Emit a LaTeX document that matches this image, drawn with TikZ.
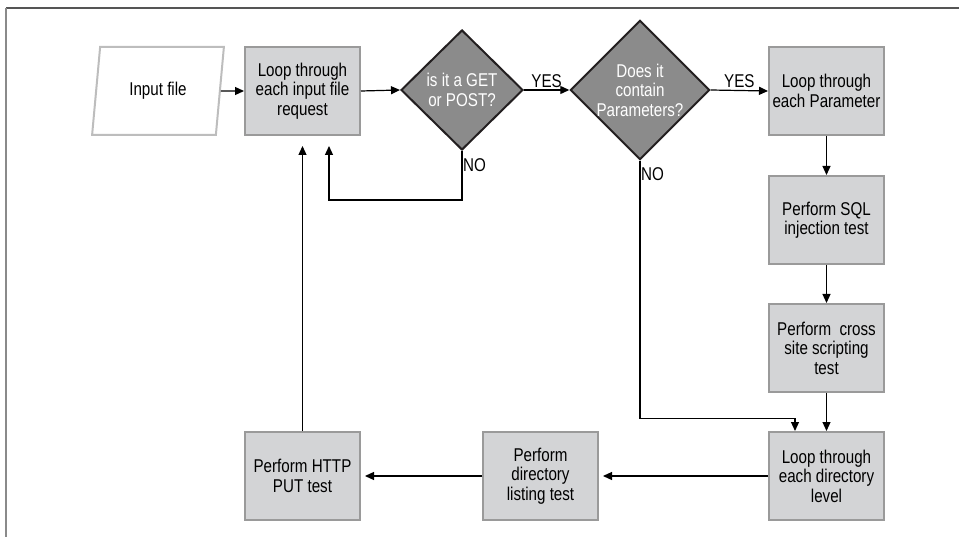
\documentclass[tikz,border=0pt]{standalone}
\usepackage{fontspec}
\setmainfont{Liberation Sans}[FakeStretch=0.82]
\usetikzlibrary{shapes.geometric,arrows.meta}
\definecolor{boxfill}{HTML}{D3D4D6}
\definecolor{boxline}{HTML}{9A9A9A}
\definecolor{diafill}{HTML}{8B8B8B}
\definecolor{diaine}{HTML}{231F20}
\definecolor{parline}{HTML}{BDBDBD}
\definecolor{frameleft}{HTML}{8A8A8A}
\definecolor{frametop}{HTML}{555555}
\tikzset{
  txt/.style={font=\fontsize{18.5}{19.5}\selectfont, align=center},
  procbox/.style={txt, draw=boxline, fill=boxfill, line width=2pt, minimum width=115pt, minimum height=88pt, inner sep=0pt},
  decision/.style={txt, diamond, draw=diaine, fill=diafill, line width=2pt, text=white, minimum width=122pt, minimum height=120pt, inner sep=0pt},
  iobox/.style={txt, trapezium, trapezium left angle=77, trapezium right angle=103, trapezium stretches=true, draw=parline, fill=white, line width=2pt, minimum width=132pt, minimum height=88pt, inner sep=0pt},
  arr/.style={draw=black, line width=1.2pt, -{Triangle[length=9pt,width=8pt]}},
  lbl/.style={font=\fontsize{18.5}{19.5}\selectfont, inner sep=1pt}
}
\begin{document}
\begin{tikzpicture}[x=1pt,y=-1pt]
\useasboundingbox (0,0) rectangle (959,537);
% frame
\draw[frametop, line width=1.5pt] (6,8) -- (959,8);
\draw[frameleft, line width=2.5pt] (6,8) -- (6,537);
% nodes
\node[iobox] (in) at (158,91) {Input file};
\node[procbox] (loop) at (302.5,91) {Loop through\\each input file\\request};
\node[decision] (d1) at (462,90) {is it a GET\\or POST?};
\node[decision] (d2) at (640,90) {Does it\\contain\\Parameters?};
\node[procbox] (param) at (826.5,91) {Loop through\\each Parameter};
\node[procbox] (sql) at (826.5,220) {Perform SQL\\injection test};
\node[procbox] (xss) at (826.5,348) {Perform~ cross\\site scripting\\test};
\node[procbox] (dirlevel) at (826.5,476) {Loop through\\each directory\\level};
\node[procbox] (dirlist) at (540.5,476) {Perform\\directory\\listing test};
\node[procbox] (put) at (302.5,476) {Perform HTTP\\PUT test};
% connectors
\draw[arr] (in.east) -- (loop.west);
\draw[arr] (loop.east) -- (d1.west);
\draw[arr] (d1.east) -- node[lbl, above=1pt] {YES} (d2.west);
\draw[arr] (d2.east) -- node[lbl, above=1pt] {YES} (param.west);
\draw[arr] (param.south) -- (sql.north);
\draw[arr] (sql.south) -- (xss.north);
\draw[arr] (xss.south) -- (dirlevel.north);
\draw[arr, shorten >=4pt] (dirlevel.west) -- (dirlist.east);
\draw[arr, shorten >=4pt] (dirlist.west) -- (put.east);
\draw[arr, shorten >=10pt] (put.north) -- (loop.south);
\draw[arr, shorten >=10pt] (d1.south) -- ++(0,49) -| ([xshift=26.5pt]loop.south);
\draw[arr] (d2.south) -- ++(0,258) -| ([xshift=-31.5pt]dirlevel.north);
\node[lbl, anchor=north west] (no1) at ([yshift=-6pt]d1.south) {NO};
\node[lbl, anchor=north west] (no2) at ([yshift=-6pt]d2.south) {NO};
\end{tikzpicture}
\end{document}
